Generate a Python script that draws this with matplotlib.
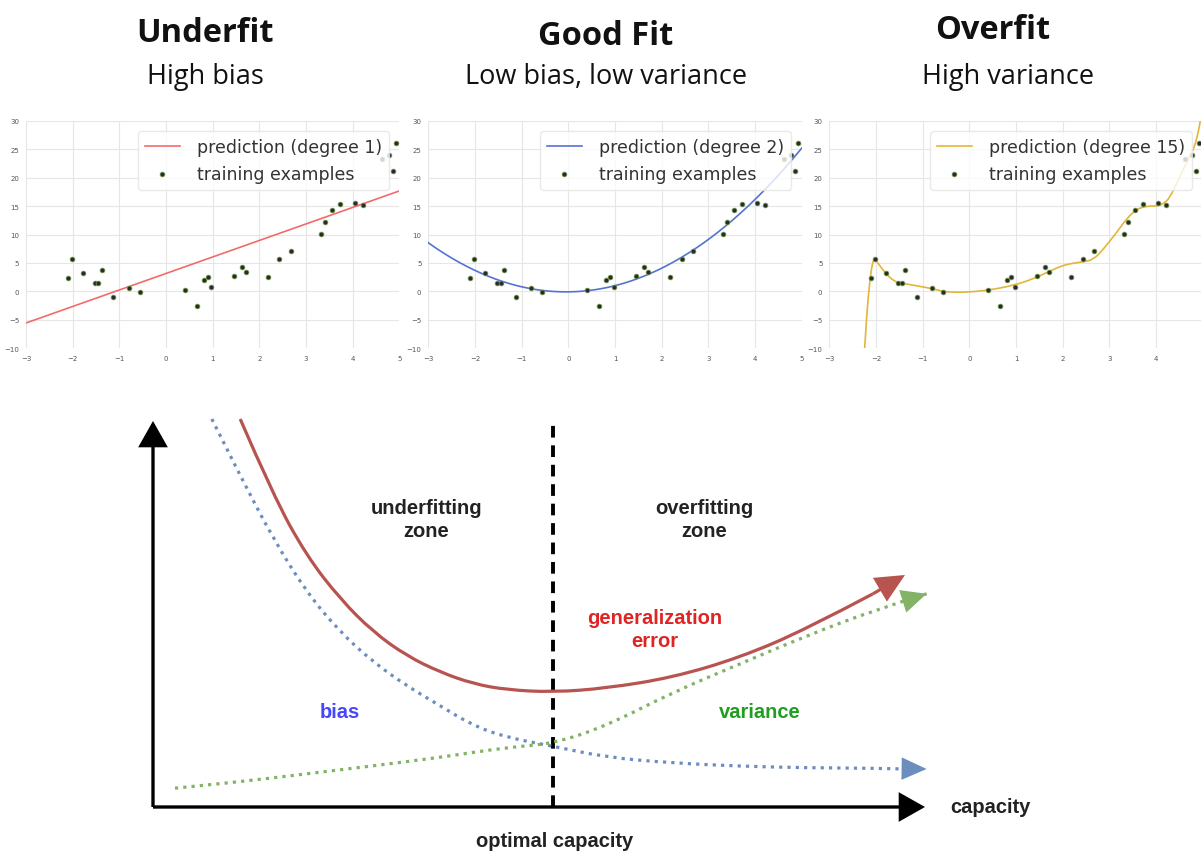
import numpy as np
import matplotlib.pyplot as plt
from matplotlib.patches import FancyArrowPatch, PathPatch
from matplotlib.path import Path

# training examples (same set in every panel)
x_train = [-2.11, -2.02, -1.78, -1.53, -1.45, -1.37, -1.13, -0.80, -0.56,
           0.41, 0.66, 0.81, 0.90, 0.97, 1.46, 1.62, 1.71, 2.18, 2.43, 2.67,
           3.32, 3.40, 3.56, 3.72, 4.04, 4.22, 4.62, 4.77, 4.86, 4.93]
y_train = [2.40, 5.74, 3.22, 1.51, 1.51, 3.69, -0.90, 0.63, -0.07,
           0.28, -2.48, 2.04, 2.51, 0.81, 2.63, 4.27, 3.45, 2.57, 5.74, 7.15,
           10.09, 12.20, 14.32, 15.43, 15.55, 15.20, 23.20, 24.00, 21.20, 26.10]

# degree 15 prediction curve
x_deg15 = [-2.27, -2.24, -2.20, -2.16, -2.12, -2.08, -2.04, -1.97, -1.88, -1.78,
           -1.63, -1.49, -1.13, -0.77, -0.56, -0.30, -0.06, 0.37, 0.94, 1.37,
           1.73, 2.01, 2.25, 2.44, 2.66, 2.87, 3.16, 3.37, 3.59, 3.80, 4.01,
           4.16, 4.30, 4.50, 4.70, 4.87, 4.95]
y_deg15 = [-13.0, -9.9, -4.5, -0.5, 2.6, 4.8, 5.75, 5.1, 4.1, 3.1,
           1.9, 1.5, 1.0, 0.45, -0.02, -0.15, -0.13, 0.16, 1.04, 2.2,
           3.6, 4.6, 5.0, 5.2, 5.6, 7.4, 10.4, 12.8, 14.5, 15.0, 15.0,
           15.4, 16.5, 20.0, 23.4, 26.2, 30.0]

titles = ['Underfit', 'Good Fit', 'Overfit']
subtitles = ['High bias', 'Low bias, low variance', 'High variance']
degrees = [1, 2, 15]
line_colors = ['#f26b6b', '#5573d0', '#e2b638']

# capacity diagram curves
cap_error = [2.18, 3.01, 3.84, 4.68, 5.50, 6.34, 7.18, 8.01, 8.84, 10.0,
             11.34, 13.0, 14.68, 16.34, 18.0, 18.8]
err_error = [9.70, 7.78, 6.28, 5.20, 4.38, 3.78, 3.37, 3.08, 2.93, 2.87,
             2.97, 3.24, 3.74, 4.45, 5.33, 5.80]
cap_bias = [1.47, 2.18, 3.01, 3.84, 4.68, 5.51, 6.34, 7.18, 8.01, 8.84, 10.0,
            11.34, 13.0, 14.68, 16.34, 18.0, 19.34]
err_bias = [9.70, 8.28, 6.70, 5.37, 4.37, 3.62, 3.03, 2.53, 2.03, 1.74, 1.52,
            1.24, 1.10, 1.02, 0.98, 0.97, 0.95]
cap_var = [0.55, 2.18, 3.84, 5.51, 7.18, 8.84, 10.0, 11.34, 13.0, 14.68,
           16.34, 18.0, 19.34]
err_var = [0.47, 0.63, 0.83, 1.03, 1.24, 1.49, 1.58, 2.03, 2.87, 3.58,
           4.28, 4.91, 5.33]
optimal_capacity = 10.0

W, H = 1201, 854


def smooth(xs, ys):
    """Quadratic bezier path through the midpoints of the given points."""
    pts = np.column_stack([xs, ys])
    verts, codes = [pts[0]], [Path.MOVETO]
    for k in range(1, len(pts) - 1):
        end = pts[k + 1] if k == len(pts) - 2 else (pts[k] + pts[k + 1]) / 2
        verts += [pts[k], end]
        codes += [Path.CURVE3, Path.CURVE3]
    if len(pts) == 2:
        verts.append(pts[1])
        codes.append(Path.LINETO)
    return Path(verts, codes)


fig = plt.figure(figsize=(W / 100, H / 100), dpi=100)

# --- bottom diagram, one axes over the whole figure ---
ax = fig.add_axes([0, 0, 1, 1])
ax.set_xlim(-153 / 40, (W - 153) / 40)
ax.set_ylim(-46 / 40, 808 / 40)
ax.axis('off')


def head(p0, p1, color, length, width, lw=0.0, scale=18):
    ax.add_patch(FancyArrowPatch(
        p0, p1, arrowstyle=f'-|>,head_length={length},head_width={width}',
        mutation_scale=scale, color=color, lw=lw, shrinkA=0, shrinkB=0,
        joinstyle='miter', capstyle='butt', zorder=4))


def curve(xs, ys, color, ls):
    ax.add_patch(PathPatch(smooth(xs, ys), fill=False, edgecolor=color,
                           lw=2.3, linestyle=ls, capstyle='butt', zorder=3))


# axes arrows
head((0, 0), (0, 9.65), 'black', 0.85, 0.48, lw=2.4)
head((0, 0), (19.3, 0), 'black', 0.85, 0.48, lw=2.4)

ax.plot([optimal_capacity, optimal_capacity], [0, 9.6], color='black', lw=2.8,
        linestyle=(0, (3, 2)), zorder=3)

# generalization error: solid curve, last segment drawn with the arrow
curve(cap_error[:-1], err_error[:-1], '#b85450', '-')
head((cap_error[-2], err_error[-2]), (cap_error[-1], err_error[-1]),
     '#b85450', 0.95, 0.45, lw=2.3)

# bias and variance: dotted curves run under their heads
curve(cap_bias[:-1] + [cap_bias[-1] - 0.5], err_bias[:-1] + [err_bias[-1]],
      '#6c8ebf', (0, (1, 1.6)))
head((cap_bias[-2], err_bias[-2]), (cap_bias[-1], err_bias[-1]),
     '#6c8ebf', 1.0, 0.45)

curve(cap_var, err_var, '#82b366', (0, (1, 1.6)))
head((cap_var[-2], err_var[-2]), (cap_var[-1], err_var[-1]),
     '#82b366', 1.0, 0.47)

bold = dict(family='Liberation Sans', weight='bold', fontsize=14.5,
            ha='center', va='center', linespacing=1.3)
ax.text(6.83, 7.2, 'underfitting\nzone', color='#222222', **bold)
ax.text(13.78, 7.2, 'overfitting\nzone', color='#222222', **bold)
ax.text(12.55, 4.45, 'generalization\nerror', color='#e02424', **bold)
ax.text(4.68, 2.38, 'bias', color='#4646ff', **bold)
ax.text(15.18, 2.38, 'variance', color='#1f9e1f', **bold)
ax.text(10.05, -0.85, 'optimal capacity', color='#222222', **bold)
ax.text(19.93, 0.0, 'capacity', color='#222222',
        **{**bold, 'ha': 'left'})

# --- three regression panels ---
lefts = [26, 428.3, 829.3]
title_x = [205, 606, 993]
subtitle_x = [205, 606, 1008]
title_base = [42, 45, 39]
x_grid = np.linspace(-3, 5, 300)

for i in range(3):
    a = fig.add_axes([lefts[i] / W, 1 - 349.3 / H, 373.4 / W, 227.5 / H])
    label = f'prediction (degree {degrees[i]})'
    if degrees[i] < 15:
        coef = np.polyfit(x_train, y_train, degrees[i])
        a.plot(x_grid, np.polyval(coef, x_grid), color=line_colors[i],
               lw=1.2, label=label)
    else:
        a.add_patch(PathPatch(smooth(x_deg15, y_deg15), fill=False,
                              edgecolor=line_colors[i], lw=1.2))
        a.plot([], [], color=line_colors[i], lw=1.2, label=label)
    a.scatter(x_train, y_train, s=12, facecolor='#263022', edgecolor='#7a9a50',
              linewidth=0.5, zorder=3, label='training examples')
    a.set_xlim(-3, 5)
    a.set_ylim(-10, 30)
    a.set_xticks(range(-3, 6))
    xlabels = ['\u2212' + str(-v) if v < 0 else str(v) for v in range(-3, 6)]
    if i == 2:
        xlabels[-1] = ''
    a.set_xticklabels(xlabels)
    a.set_yticks(range(-10, 31, 5))
    a.grid(color='#e6e6e6', lw=0.8)
    a.set_axisbelow(True)
    for s in a.spines.values():
        s.set_visible(False)
    a.tick_params(length=0, labelsize=5, labelcolor='#555555', pad=5)
    leg = a.legend(loc='upper right', fontsize=12.5, scatterpoints=1,
                   framealpha=0.8, edgecolor='#e4e4e4', fancybox=True,
                   borderaxespad=0.6, handlelength=2.0, handletextpad=1.0)
    for t in leg.get_texts():
        t.set_color('#333333')

    fig.text(title_x[i] / W, 1 - title_base[i] / H, titles[i], ha='center',
             va='baseline', family='Open Sans', weight='bold', fontsize=23.5,
             color='#111111')
    fig.text(subtitle_x[i] / W, 1 - 84 / H, subtitles[i], ha='center',
             va='baseline', family='Open Sans', fontsize=19.5, color='#111111')

fig.savefig('out.png', dpi=100)
